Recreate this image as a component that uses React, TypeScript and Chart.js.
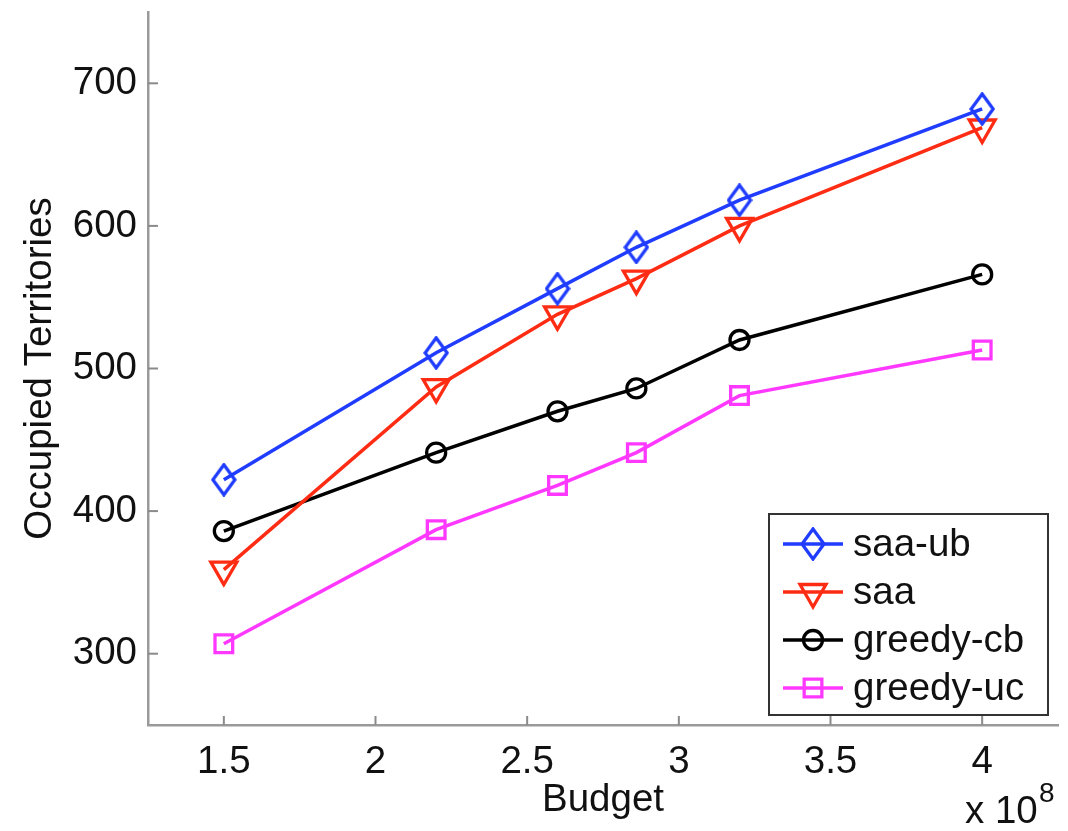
import React, { useEffect, useRef } from "react";
import { Chart, registerables } from "chart.js";
import { drawPoint } from "chart.js/helpers";

Chart.register(...registerables);

// Budget in units of 1e8
const budgets = [1.5, 2.2, 2.6, 2.86, 3.2, 4.0];
const saaUb = [422, 511, 556, 585, 618, 682];
const saa = [359, 487, 538, 563, 600, 669];
const greedyCb = [386, 441, 470, 486, 520, 566];
const greedyUc = [307, 387, 418, 441, 481, 513];
const xTicks = [1.5, 2, 2.5, 3, 3.5, 4];
const yTicks = [300, 400, 500, 600, 700];
const seriesNames = ["saa-ub", "saa", "greedy-cb", "greedy-uc"];

const FONT = "'Liberation Sans', Arial, Helvetica, sans-serif";
const FS = 38.5;

const colors = ["#1f3cff", "#ff2c14", "#000000", "#ff38ff"];
const radii = [12.5, 15, 9.5, 12.5];
const rotations = [0, 180, 0, 0];

function makeDiamond(color: string): HTMLCanvasElement {
  const c = document.createElement("canvas");
  c.width = 26;
  c.height = 34;
  const g = c.getContext("2d")!;
  g.strokeStyle = color;
  g.lineWidth = 3.3;
  g.lineJoin = "miter";
  g.beginPath();
  g.moveTo(13, 2);
  g.lineTo(24, 17);
  g.lineTo(13, 32);
  g.lineTo(2, 17);
  g.closePath();
  g.stroke();
  return c;
}

const zeroPad = (s: any) => {
  s.paddingTop = 0;
  s.paddingBottom = 0;
  s.paddingLeft = 0;
  s.paddingRight = 0;
};

const overlay = {
  id: "overlay",
  afterDraw(chart: any) {
    const ctx = chart.ctx;
    const xs = chart.scales.x;
    const ys = chart.scales.y;
    const area = chart.chartArea;
    ctx.save();
    // inward ticks
    ctx.strokeStyle = "#8a8a8a";
    ctx.lineWidth = 2;
    xTicks.forEach((v) => {
      const px = xs.getPixelForValue(v);
      ctx.beginPath();
      ctx.moveTo(px, area.bottom);
      ctx.lineTo(px, area.bottom - 9);
      ctx.stroke();
    });
    yTicks.forEach((v) => {
      const py = ys.getPixelForValue(v);
      ctx.beginPath();
      ctx.moveTo(area.left, py);
      ctx.lineTo(area.left + 10, py);
      ctx.stroke();
    });
    // x 10^8 exponent label
    ctx.fillStyle = "#111";
    ctx.textBaseline = "alphabetic";
    ctx.textAlign = "left";
    ctx.font = `${FS}px ${FONT}`;
    ctx.fillText("x 10", 965, 823);
    ctx.font = `${Math.round(FS * 0.72)}px ${FONT}`;
    ctx.fillText("8", 1039, 802);

    // legend
    const bx = 769, by = 514, bw = 279, bh = 201;
    ctx.fillStyle = "#ffffff";
    ctx.fillRect(bx, by, bw, bh);
    ctx.strokeStyle = "#333";
    ctx.lineWidth = 2;
    ctx.strokeRect(bx, by, bw, bh);
    const rowsY = [544, 592, 640, 688];
    chart.data.datasets.forEach((ds: any, i: number) => {
      const y = rowsY[i];
      ctx.strokeStyle = ds.borderColor;
      ctx.lineWidth = 3.5;
      ctx.beginPath();
      ctx.moveTo(783, y);
      ctx.lineTo(843, y);
      ctx.stroke();
      ctx.lineWidth = 3.3;
      ctx.fillStyle = "rgba(0,0,0,0)";
      drawPoint(ctx, { pointStyle: ds.pointStyle, radius: ds.pointRadius, rotation: ds.pointRotation, borderWidth: 3.3 } as any, 813, y);
      ctx.fillStyle = "#111";
      ctx.font = `${FS}px ${FONT}`;
      ctx.textBaseline = "middle";
      ctx.fillText(ds.label, 853, y + 1);
    });
    ctx.restore();
  },
};

export default function App() {
  const ref = useRef<HTMLCanvasElement>(null);
  useEffect(() => {
    if (!ref.current) return;
    const series = [saaUb, saa, greedyCb, greedyUc];
    const styles: any[] = [makeDiamond(colors[0]), "triangle", "circle", "rect"];
    const chart = new Chart(ref.current, {
      type: "line",
      data: {
        datasets: series.map((vals, i) => ({
          label: seriesNames[i],
          data: budgets.map((b, j) => ({ x: b, y: vals[j] })),
          borderColor: colors[i],
          backgroundColor: "transparent",
          borderWidth: 3.5,
          pointStyle: styles[i],
          pointRadius: radii[i],
          pointRotation: rotations[i],
          pointBorderWidth: 3.3,
          pointBorderColor: colors[i],
          pointBackgroundColor: "transparent",
          tension: 0,
          clip: false as any,
        })),
      },
      options: {
        animation: false,
        responsive: false,
        devicePixelRatio: 1,
        layout: { autoPadding: false, padding: { top: 12, right: 10, left: 0, bottom: 0 } },
        plugins: { legend: { display: false }, tooltip: { enabled: false } },
        scales: {
          x: {
            type: "linear",
            min: 1.25,
            max: 4.25,
            afterBuildTicks: (s: any) => {
              s.ticks = xTicks.map((v) => ({ value: v }));
            },
            afterFit: (s: any) => {
              s.height = 106;
              zeroPad(s);
            },
            grid: { display: false, drawTicks: false },
            border: { display: true, color: "#9a9a9a", width: 2.5 },
            ticks: {
              color: "#111",
              padding: 14,
              font: { family: FONT, size: FS },
              callback: (v: any) => String(v),
              maxRotation: 0,
              autoSkip: false,
            },
            title: {
              display: true,
              text: "Budget",
              color: "#111",
              font: { family: FONT, size: FS },
              padding: { top: 0, bottom: 8 },
            },
          },
          y: {
            type: "linear",
            min: 250,
            max: 750,
            afterBuildTicks: (s: any) => {
              s.ticks = yTicks.map((v) => ({ value: v }));
            },
            afterFit: (s: any) => {
              s.width = 148;
              zeroPad(s);
            },
            grid: { display: false, drawTicks: false },
            border: { display: true, color: "#9a9a9a", width: 2.5 },
            ticks: {
              color: "#111",
              padding: 11,
              font: { family: FONT, size: FS },
              callback: (v: any) => String(v),
              autoSkip: false,
            },
            title: {
              display: true,
              text: "Occupied Territories",
              color: "#111",
              font: { family: FONT, size: FS },
              padding: { top: 17, bottom: 0 },
            },
          },
        },
      },
      plugins: [overlay],
    });
    return () => chart.destroy();
  }, []);
  return (
    <div style={{ position: "absolute", left: 0, top: 0, width: 1068, height: 831, background: "#fff" }}>
      <canvas ref={ref} width={1068} height={831} style={{ display: "block" }} />
    </div>
  );
}
